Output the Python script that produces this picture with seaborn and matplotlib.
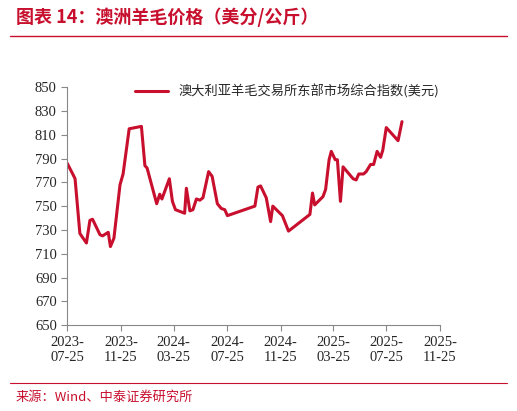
import pandas as pd
import matplotlib
matplotlib.use('Agg')
import matplotlib.pyplot as plt
import seaborn as sns

dates = ['2023-07-25', '2023-08-08', '2023-08-12', '2023-08-23', '2023-09-07', '2023-09-15', '2023-09-21',
         '2023-10-08', '2023-10-14', '2023-10-27', '2023-11-01', '2023-11-09', '2023-11-23', '2023-11-30',
         '2023-12-14', '2024-01-11', '2024-01-19', '2024-01-24', '2024-02-15', '2024-02-22', '2024-02-27',
         '2024-03-15', '2024-03-22', '2024-03-29', '2024-04-19', '2024-04-23', '2024-05-01', '2024-05-08',
         '2024-05-16', '2024-05-24', '2024-05-31', '2024-06-13', '2024-06-21', '2024-07-03', '2024-07-12',
         '2024-07-20', '2024-07-26', '2024-09-27', '2024-10-04', '2024-10-10', '2024-10-23', '2024-11-02',
         '2024-11-07', '2024-11-29', '2024-12-13', '2025-01-31', '2025-02-06', '2025-02-11', '2025-03-02',
         '2025-03-08', '2025-03-16', '2025-03-21', '2025-03-30', '2025-04-04', '2025-04-11', '2025-04-17',
         '2025-05-10', '2025-05-17', '2025-05-23', '2025-06-03', '2025-06-09', '2025-06-19', '2025-06-26',
         '2025-07-04', '2025-07-12', '2025-07-17', '2025-07-25', '2025-08-21', '2025-08-30']
values = [786, 776, 773, 727, 719, 738, 739, 726, 725, 728, 716, 723, 768, 777,
          815, 817, 784, 782, 752, 760, 756, 773, 754, 747, 744, 765, 746, 747,
          756, 755, 757, 779, 775, 752, 748, 747, 742, 750, 766, 767, 757, 737,
          750, 742, 729, 743, 761, 751, 758, 764, 789, 796, 789, 789, 754, 783,
          773, 772, 777, 777, 779, 785, 785, 796, 791, 797, 816, 805, 821]
series_name = '澳大利亚羊毛交易所东部市场综合指数(美元)'
tick_dates = ['2023-07-25', '2023-11-25', '2024-03-25', '2024-07-25',
              '2024-11-25', '2025-03-25', '2025-07-25', '2025-11-25']

df = pd.DataFrame({'date': pd.to_datetime(dates), 'value': values})

sns.set_style('white')
plt.rcParams['font.family'] = ['Noto Sans CJK SC', 'DejaVu Sans']
red = '#c8102e'

fig = plt.figure(figsize=(5.17, 4.11), dpi=100)
ax = fig.add_axes([0.130, 0.209, 0.721, 0.579])
sns.lineplot(data=df, x='date', y='value', color=red, linewidth=2.2, ax=ax, label=series_name)

ticks = pd.to_datetime(tick_dates)
ax.set_xlim(ticks[0], ticks[-1])
ax.set_xticks(ticks)
ax.set_xticklabels([d[:5] + '\n' + d[5:] for d in tick_dates], family='Liberation Serif', fontsize=10.5)
ax.set_ylim(650, 850)
ax.set_yticks(range(650, 851, 20))
ax.set_yticklabels([str(v) for v in range(650, 851, 20)], family='Liberation Serif', fontsize=10.5)
ax.tick_params(axis='both', direction='out', length=4, color='#888888', left=True, bottom=True)
ax.set_xlabel('')
ax.set_ylabel('')
for s in ['top', 'right']:
    ax.spines[s].set_visible(False)
for s in ['left', 'bottom']:
    ax.spines[s].set_color('#888888')
ax.legend(loc='upper right', bbox_to_anchor=(1.03, 1.06), frameon=False, fontsize=9.5,
          handlelength=2.5)

fig.text(0.03, 0.945, '图表 14：澳洲羊毛价格（美分/公斤）', color=red, fontsize=13,
         fontweight='bold', style='italic')
fig.add_artist(plt.Line2D([0.02, 0.98], [0.912, 0.912], color=red, linewidth=1))
fig.add_artist(plt.Line2D([0.02, 0.98], [0.068, 0.068], color=red, linewidth=0.8))
fig.text(0.03, 0.025, '来源：Wind、中泰证券研究所', color=red, fontsize=9.5)

fig.savefig('out.png', dpi=100)
